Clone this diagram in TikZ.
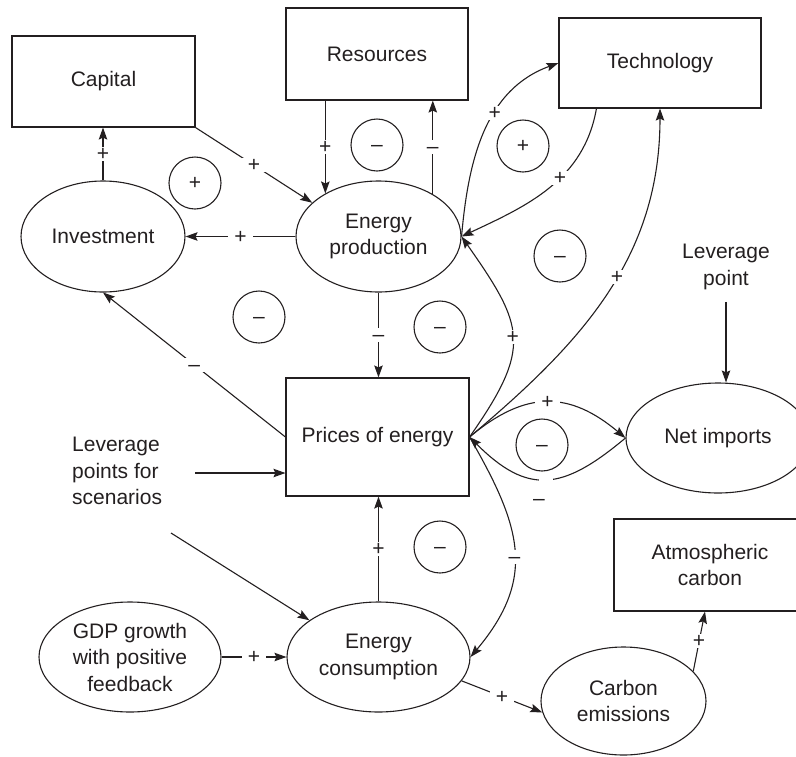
\documentclass[tikz,border=0pt]{standalone}
\usepackage{fontspec}
\setmainfont{Liberation Sans}
\usetikzlibrary{arrows.meta,shapes.geometric}
\definecolor{ink}{RGB}{35,31,32}
\begin{document}
\begin{tikzpicture}[x=1pt,y=-1pt,
  every node/.style={text=ink, font=\fontsize{21}{26.5}\selectfont},
  box/.style={draw=ink, line width=1.1pt, rectangle, inner sep=0pt, align=center},
  oval/.style={draw=ink, line width=1.1pt, ellipse, inner sep=0pt, align=center},
  loopc/.style={draw=ink, line width=1.1pt, circle, minimum size=52pt, inner sep=0pt, text height=13pt, text depth=0pt},
  arr/.style={draw=ink, line width=1.1pt, -{Stealth[length=12pt,width=8.5pt,inset=2pt]}},
  lab/.style={fill=white, inner xsep=6pt, inner ysep=0.5pt, text height=13pt, text depth=0pt},
  gapn/.style={fill=white, inner sep=0pt, minimum width=14pt, minimum height=6pt}
]
\useasboundingbox (0,0) rectangle (796,756);
\clip (0,0) rectangle (796,756);

% boxes
\node[box, minimum width=183pt, minimum height=91pt] (cap) at (103.5,81.5) {Capital};
\node[box, minimum width=182pt, minimum height=92pt] (res) at (377,54) {Resources};
\node[box, minimum width=202pt, minimum height=90pt] (tech) at (660,63) {Technology};
\node[box, minimum width=183pt, minimum height=118pt] (price) at (377.5,437) {Prices of energy};
\node[box, minimum width=192pt, minimum height=92pt] (atm) at (710,565) {Atmospheric\\carbon};

% ellipses
\node[oval, minimum width=164pt, minimum height=111pt] (inv) at (103,236.5) {Investment};
\node[oval, minimum width=165pt, minimum height=111pt] (ep) at (378.5,236.5) {Energy\\production};
\node[oval, minimum width=184pt, minimum height=110pt] (ni) at (718,438) {Net imports};
\node[oval, minimum width=182pt, minimum height=110pt] (gdp) at (130,657) {GDP growth\\with positive\\feedback};
\node[oval, minimum width=183pt, minimum height=110pt] (cons) at (378.5,657) {Energy\\consumption};
\node[oval, minimum width=165pt, minimum height=108pt] (carb) at (623.5,701) {Carbon\\emissions};

% free texts
\node[inner sep=0pt, align=left, anchor=west] (lps) at (72,471) {Leverage\\points for\\scenarios};
\node[inner sep=0pt, align=center] (lp) at (726,267) {Leverage\\point};
\coordinate (lpsA) at (195,473);
\coordinate (lpsB) at (171,533);

% loop circles
\node[loopc] (l1) at (195,183) {+};
\node[loopc] (l2) at (377,145) {–};
\node[loopc] (l3) at (523,146) {+};
\node[loopc] (l4) at (560,256) {–};
\node[loopc] (l5) at (259,317) {–};
\node[loopc] (l6) at (440,327) {–};
\node[loopc] (l7) at (542,445) {–};
\node[loopc] (l8) at (440,547) {–};

% straight connectors
\draw[arr] (cap.south east) -- node[lab]{+} (ep.153);
\draw[arr] (ep.141 |- res.south) -- node[lab]{+} (ep.141);
\draw[arr] (ep.38) -- node[lab]{–} (ep.38 |- res.south);
\draw[arr] (ep.west) -- node[lab]{+} (inv.east);
\draw[arr] (inv.north) -- node[lab]{+} (inv.north |- cap.south);
\draw[arr] (ep.south) -- node[lab]{–} (ep.south |- price.north);
\draw[arr] (price.west) -- node[lab]{–} (inv.south);
\draw[arr] (cons.north) -- node[lab]{+} (cons.north |- price.south);
\draw[arr] (gdp.east) -- node[lab]{+} (cons.west);
\draw[arr] (cons.-16) -- node[lab]{+} (carb.188);
\draw[arr] (carb.23) -- node[lab]{+} ([xshift=-5pt]atm.south);
\draw[arr] (lpsA) -- (price.west |- lpsA);
\draw[arr] (lpsB) -- (cons.152);
\draw[arr] ([yshift=-12pt]lp.south) -- (lp.south |- ni.north);

% curved connectors
\draw[arr] (ep.east) to[out=85,in=200] node[lab,pos=0.6]{+} (tech.west);
\draw[arr] ([xshift=38pt]tech.south west) to[out=-100,in=25] node[lab,pos=0.42]{+} (ep.east);
\draw[arr] (price.east) to[out=55,in=-55,looseness=1.4] node[lab]{+} (ep.east);
\draw[arr] (price.east) to[out=40,in=-90] node[lab,pos=0.55]{+} (tech.south);
\draw[arr] (price.east) to[out=40,in=140,looseness=1.2] node[lab]{+} (ni.west);
\draw[arr] (ni.west) to[out=-140,in=-45,looseness=1.35] node[gapn]{} (price.east);
\node[inner sep=0pt, text height=13pt, text depth=0pt] (nilab) at (539,499) {–};
\draw[arr] (price.east) to[out=-60,in=50,looseness=1.2] node[lab,pos=0.53]{–} (cons.east);
\end{tikzpicture}
\end{document}
